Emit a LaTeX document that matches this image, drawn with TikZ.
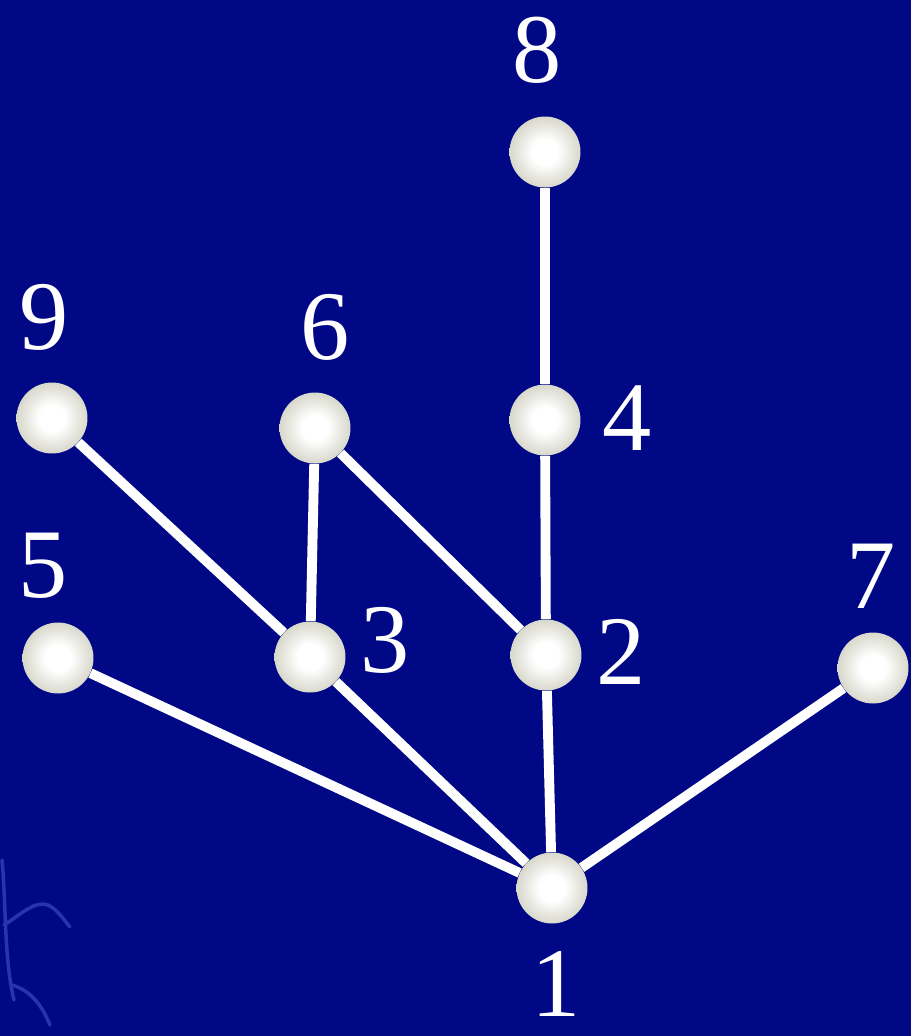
\documentclass[tikz,border=0pt]{standalone}
\usepackage{fontspec}
\setmainfont{Liberation Serif}
\definecolor{bg}{RGB}{0,8,134}
\definecolor{deco}{RGB}{70,80,200}
\definecolor{ballmid}{RGB}{208,208,194}
\definecolor{ballout}{RGB}{150,150,134}
\pgfdeclareradialshading{sphere}{\pgfpoint{0bp}{0bp}}{%
  color(0bp)=(white); color(9bp)=(white);
  color(28bp)=(ballmid);
  color(50bp)=(ballout)}
\tikzset{
  ball/.style={circle, minimum size=1.42cm, inner sep=0pt, shading=sphere},
  lab/.style={text=white, font=\fontsize{56}{56}\selectfont, inner sep=0pt},
  edge/.style={white, line width=5.6pt}
}
\begin{document}
\begin{tikzpicture}[x=0.02cm, y=-0.02cm]
\fill[bg] (0,0) rectangle (911,1036);
\useasboundingbox (0,0) rectangle (911,1036);
% faint background decoration
\draw[deco, line width=2pt, opacity=0.6, line cap=round]
  (2,860) .. controls (6,900) and (4,960) .. (14,1000)
  (4,925) .. controls (20,915) and (35,900) .. (48,905) .. controls (58,910) and (64,920) .. (70,927)
  (12,985) .. controls (30,990) and (42,1005) .. (50,1025);
% nodes
\node[ball] (n8) at (545,152) {};
\node[ball] (n4) at (545,420) {};
\node[ball] (n9) at (52,418) {};
\node[ball] (n6) at (315,428) {};
\node[ball] (n5) at (58,658) {};
\node[ball] (n3) at (310,657) {};
\node[ball] (n2) at (546,655) {};
\node[ball] (n7) at (873,668) {};
\node[ball] (n1) at (552,888) {};
% labels
\node[lab] (l8) at (537,50) {8};
\node[lab] (l9) at (44,317) {9};
\node[lab] (l6) at (325,327) {6};
\node[lab] (l4) at (627,418) {4};
\node[lab] (l5) at (43,566) {5};
\node[lab] (l7) at (871,576) {7};
\node[lab] (l3) at (385,640) {3};
\node[lab] (l2) at (621,652) {2};
\node[lab] (l1) at (556,984) {1};
% connectors
\draw[edge] (n8) -- (n4);
\draw[edge] (n4) -- (n2);
\draw[edge] (n2) -- (n1);
\draw[edge] (n9) -- (n3);
\draw[edge] (n6) -- (n3);
\draw[edge] (n6) -- (n2);
\draw[edge] (n5) -- (n1);
\draw[edge] (n3) -- (n1);
\draw[edge] (n7) -- (n1);
\end{tikzpicture}
\end{document}
